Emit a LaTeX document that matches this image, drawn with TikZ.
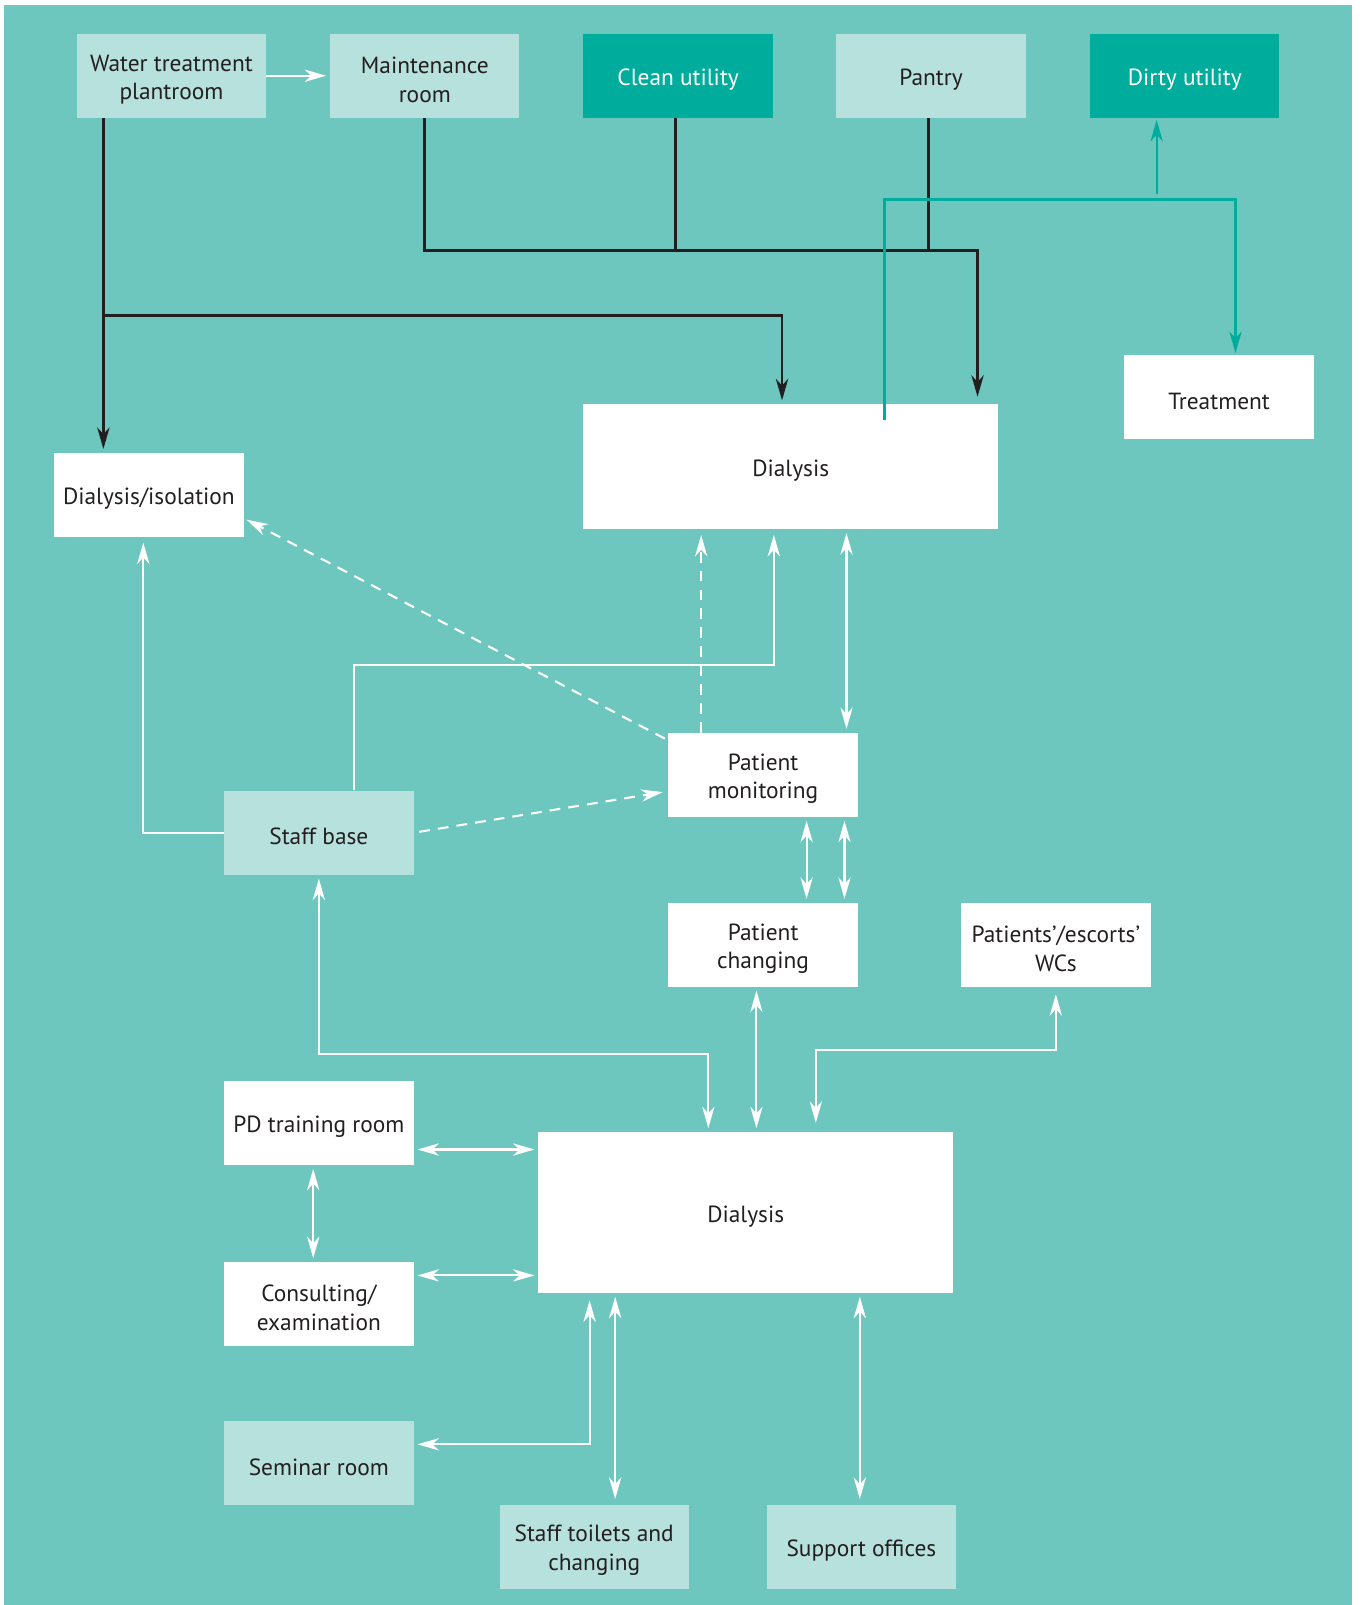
\documentclass[tikz,border=0pt]{standalone}
\usepackage{fontspec}
\setmainfont{PT Sans}
\usetikzlibrary{arrows.meta,calc}
\definecolor{bg}{HTML}{6DC7BF}
\definecolor{pale}{HTML}{B7E1DC}
\definecolor{deep}{HTML}{00AD9C}
\definecolor{ink}{HTML}{231F20}
\newcommand\lift{\rule{0pt}{13.5pt}}

\begin{document}
\begin{tikzpicture}[x=0.02cm,y=-0.02cm,
  room/.style={minimum width=3.7cm,minimum height=1.64cm,inner sep=2pt,align=center,
               text=ink,font=\fontsize{13}{16}\selectfont},
  whiteroom/.style={room,fill=white},
  paleroom/.style={room,fill=pale},
  deeproom/.style={room,fill=deep,text=white},
  tip/.style={arrows={-Stealth[length=0.42cm,width=0.24cm,inset=0.13cm]}},
  blk/.style={draw=ink,line width=1.5pt},
  tl/.style={draw=deep,line width=1.3pt},
  wt/.style={draw=white,line width=1.15pt},
  wtd/.style={wt,dash pattern=on 6pt off 4.5pt},
  both/.style={arrows={Stealth[length=0.42cm,width=0.24cm,inset=0.13cm]-Stealth[length=0.42cm,width=0.24cm,inset=0.13cm]},
               shorten <=2pt,shorten >=2pt}]
 \useasboundingbox (0,0) rectangle (1328,1568);
 \fill[bg] (4,5) rectangle (1321,1568);

 \node[paleroom] (water)   at (167.5,74)  {\lift Water treatment\\plantroom};
 \node[paleroom] (maint)   at (415,74)    {\lift Maintenance\\room};
 \node[deeproom] (clean)   at (662.5,74)  {\lift Clean utility};
 \node[paleroom] (pantry)  at (909.5,74)  {\lift Pantry};
 \node[deeproom] (dirty)   at (1157.5,74) {\lift Dirty utility};
 \node[whiteroom] (treat)  at (1191,388)  {\lift Treatment};
 \node[whiteroom,minimum width=8.1cm,minimum height=2.44cm] (dialtop) at (772.5,456) {\lift Dialysis};
 \node[whiteroom] (isol)   at (145.5,483.5) {\lift Dialysis/isolation};
 \node[whiteroom] (monit)  at (745.5,757) {\lift Patient\\monitoring};
 \node[paleroom] (staff)   at (311.5,813.5) {\lift Staff base};
 \node[whiteroom] (chang)  at (745.5,923) {\lift Patient\\changing};
 \node[whiteroom] (wcs)    at (1031.5,923) {\lift Patients'/escorts'\\WCs};
 \node[whiteroom] (pd)     at (311.5,1097) {\lift PD training room};
 \node[whiteroom,minimum width=8.1cm,minimum height=3.14cm] (dialbot) at (728.5,1184.5) {\lift Dialysis};
 \node[whiteroom] (consult) at (311.5,1274) {\lift Consulting/\\examination};
 \node[paleroom] (seminar) at (311.5,1429.5) {\lift Seminar room};
 \node[paleroom] (toilets) at (580.5,1511) {\lift Staff toilets and\\changing};
 \node[paleroom] (support) at (841.5,1511) {\lift Support offices};

 \coordinate (wjoin) at (101,308);
 \coordinate (djoin) at (864,410);
 \coordinate (ujoin) at (1130,190);

 \draw[blk,tip,shorten >=2pt] (water.south -| 101,0) -- (isol.north -| 101,0);
 \draw[blk,tip,shorten >=2pt] (wjoin) -| (dialtop.north -| 764,0);
 \draw[blk,tip,shorten >=4pt] (maint.south) |- (955,245) -- (dialtop.north -| 955,0);
 \draw[blk] (clean.south -| 660,0) -- (660,245);
 \draw[blk] (pantry.south -| 907,0) -- (907,245);

 \draw[tl,tip,shorten >=1pt] (djoin) |- (1207,195) -- (treat.north -| 1207,0);
 \draw[tl,tip,shorten >=1pt] (ujoin) -- (dirty.south -| 1130,0);

 \draw[wt,tip,shorten >=2pt] (water) -- (maint);
 \draw[wt,tip,shorten >=3pt] (staff.west) -| (isol.south -| 140,0);
 \draw[wt,tip,shorten >=3pt] (staff.north -| 346,0) |- (756,650) -- (dialtop.south -| 756,0);
 \draw[wtd,tip,shorten >=1pt] ($(monit.north west)+(-3,6)$) -- ($(isol.south east)+(1,-18)$);
 \draw[wtd,tip,shorten >=3pt] (monit.north -| 685,0) -- (dialtop.south -| 685,0);
 \draw[wtd,tip,shorten >=3pt,shorten <=3pt] (staff.east) -- ($(monit.west)+(0,16)$);
 \draw[wt,both] (dialtop.south -| 827,0) -- (monit.north -| 827,0);
 \draw[wt,both] (monit.south -| 788,0) -- (chang.north -| 788,0);
 \draw[wt,both] (monit.south -| 825,0) -- (chang.north -| 825,0);
 \draw[wt,both] (staff.south) |- (692,1030) -- (dialbot.north -| 692,0);
 \draw[wt,both] (chang.south -| 739,0) -- (dialbot.north -| 739,0);
 \draw[wt,both,shorten <=4pt,shorten >=5pt] (wcs.south) |- (797,1026) -- (dialbot.north -| 797,0);
 \draw[wt,both] (pd.east |- 0,1123) -- (dialbot.west |- 0,1123);
 \draw[wt,both] (pd.south -| 306,0) -- (consult.north -| 306,0);
 \draw[wt,both] (consult.east |- 0,1246) -- (dialbot.west |- 0,1246);
 \draw[wt,both,shorten <=4pt] (dialbot.south -| 576,0) |- (seminar.east |- 0,1411);
 \draw[wt,both,shorten >=3pt] (dialbot.south -| 601,0) -- (toilets.north -| 601,0);
 \draw[wt,both,shorten >=3pt] (dialbot.south -| 840,0) -- (support.north -| 840,0);
\end{tikzpicture}
\end{document}
